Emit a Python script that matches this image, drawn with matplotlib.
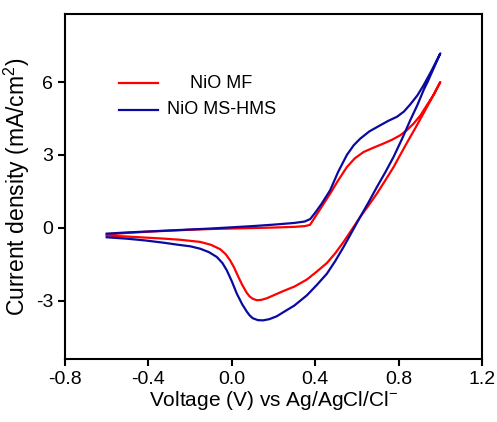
import matplotlib
matplotlib.use('Agg')
import matplotlib.pyplot as plt

plt.rcParams['font.family'] = ['Liberation Sans', 'DejaVu Sans']
plt.rcParams['mathtext.fontset'] = 'custom'
plt.rcParams['mathtext.rm'] = 'Liberation Sans'
plt.rcParams['mathtext.it'] = 'Liberation Sans'

# NiO MF : forward scan -0.6 -> 1.0 V, then return scan back to -0.6 V
mf_v = [-0.6, -0.5, -0.4, -0.3, -0.2, -0.1, 0.0, 0.1, 0.2, 0.3, 0.35, 0.375,
        0.40, 0.43, 0.472, 0.51, 0.552, 0.59, 0.632, 0.68, 0.728, 0.77, 0.808,
        0.84, 0.872, 0.905, 0.936, 0.97, 1.0,
        0.96, 0.92, 0.88, 0.84, 0.80, 0.776, 0.736, 0.696, 0.656, 0.616, 0.576,
        0.536, 0.496, 0.456, 0.408, 0.36, 0.30, 0.248, 0.2, 0.168, 0.14, 0.12,
        0.10, 0.085, 0.072, 0.05, 0.032, 0.01, -0.008, -0.03, -0.056, -0.1,
        -0.152, -0.25, -0.336, -0.42, -0.5, -0.6]
mf_j = [-0.27, -0.21, -0.16, -0.12, -0.08, -0.05, -0.03, -0.01, 0.01, 0.04, 0.07, 0.12,
        0.45, 0.85, 1.41, 1.95, 2.5, 2.86, 3.12, 3.3, 3.47, 3.63, 3.81,
        4.02, 4.29, 4.63, 5.05, 5.5, 6.0,
        5.35, 4.72, 4.1, 3.5, 2.88, 2.5, 1.95, 1.41, 0.92, 0.45, -0.07,
        -0.58, -1.05, -1.45, -1.8, -2.13, -2.42, -2.6, -2.78, -2.9, -2.97, -2.98,
        -2.92, -2.82, -2.68, -2.35, -2.03, -1.62, -1.34, -1.08, -0.88, -0.7,
        -0.58, -0.49, -0.44, -0.4, -0.36, -0.32]

# NiO MS-HMS
hms_v = [-0.6, -0.5, -0.4, -0.3, -0.2, -0.1, 0.0, 0.1, 0.2, 0.3, 0.35, 0.376,
         0.40, 0.43, 0.472, 0.51, 0.552, 0.585, 0.616, 0.66, 0.712, 0.75, 0.792,
         0.825, 0.856, 0.89, 0.92, 0.96, 1.0,
         0.97, 0.94, 0.92, 0.89, 0.856, 0.816, 0.776, 0.736, 0.696, 0.656, 0.616,
         0.576, 0.536, 0.496, 0.456, 0.408, 0.36, 0.30, 0.248, 0.216, 0.18, 0.15,
         0.125, 0.10, 0.085, 0.072, 0.05, 0.024, 0.0, -0.024, -0.045, -0.072,
         -0.11, -0.152, -0.2, -0.256, -0.33, -0.416, -0.5, -0.6]
hms_j = [-0.24, -0.19, -0.15, -0.11, -0.07, -0.03, 0.02, 0.07, 0.13, 0.2, 0.26, 0.36,
         0.62, 0.98, 1.55, 2.3, 3.0, 3.4, 3.67, 3.97, 4.22, 4.4, 4.57,
         4.78, 5.08, 5.45, 5.87, 6.5, 7.18,
         6.6, 6.02, 5.67, 5.05, 4.43, 3.65, 2.92, 2.28, 1.68, 1.05, 0.45,
         -0.17, -0.79, -1.37, -1.89, -2.35, -2.78, -3.2, -3.47, -3.64, -3.76, -3.81,
         -3.8, -3.72, -3.6, -3.45, -3.15, -2.71, -2.2, -1.75, -1.45, -1.2,
         -1.0, -0.86, -0.76, -0.7, -0.61, -0.52, -0.45, -0.39]

fig = plt.figure(figsize=(4.97, 4.22), dpi=100)
ax = fig.add_axes([0.1308, 0.1493, 0.839, 0.8175])

ax.plot(mf_v, mf_j, color='#ff0000', linewidth=1.6)
ax.plot(hms_v, hms_j, color='#0a0aa0', linewidth=1.6)

ax.set_xlim(-0.8, 1.2)
ax.set_ylim(-5.4, 8.8)
ax.set_xticks([-0.8, -0.4, 0.0, 0.4, 0.8, 1.2])
ax.set_xticklabels(['-0.8', '-0.4', '0.0', '0.4', '0.8', '1.2'])
ax.set_yticks([-3, 0, 3, 6])
ax.set_yticklabels(['-3', '0', '3', '6'])
ax.tick_params(direction='out', length=5, width=1.5, labelsize=14)
for s in ax.spines.values():
    s.set_linewidth(1.5)

ax.set_xlabel('Voltage (V) vs Ag/AgCl/Cl$^{-}$', fontsize=15, labelpad=1)
ax.set_ylabel('Current density (mA/cm$^{2}$)', fontsize=16.5, labelpad=3)

# legend drawn by hand so the text can be centred
ax.plot([0.1295, 0.223], [0.799, 0.799], color='#ff0000', linewidth=1.6,
        transform=ax.transAxes)
ax.plot([0.1295, 0.223], [0.722, 0.722], color='#0a0aa0', linewidth=1.6,
        transform=ax.transAxes)
ax.text(0.375, 0.799, 'NiO MF', transform=ax.transAxes, ha='center',
        va='center', fontsize=13)
ax.text(0.375, 0.722, 'NiO MS-HMS', transform=ax.transAxes, ha='center',
        va='center', fontsize=13)

fig.savefig('out.png', dpi=100)
